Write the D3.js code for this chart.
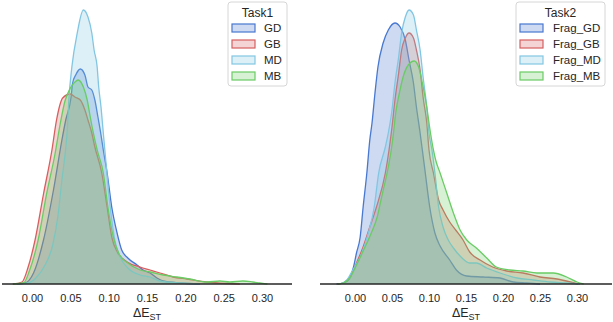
<!DOCTYPE html>
<html>
<head>
<meta charset="utf-8">
<script src="https://cdn.jsdelivr.net/npm/d3@7"></script>
<style>
  body { margin: 0; background: #fff; }
  svg text { font-family: "Liberation Sans", Arial, sans-serif; fill: #262626; }
</style>
</head>
<body>
<svg id="chart" width="613" height="322"></svg>
<script>
// Legend titles and series names.
var task1Title = "Task1";
var task2Title = "Task2";
var task1Names = ["GD", "GB", "MD", "MB"];
var task2Names = ["Frag_GD", "Frag_GB", "Frag_MD", "Frag_MB"];
var palette = ["#4878d0", "#d65f5f", "#82c6e2", "#6acc64"];
var xTicks = [0.00, 0.05, 0.10, 0.15, 0.20, 0.25, 0.30];

// Density curves: [dE_ST, density].
var task1GD = [[-0.02,0],[-0.009,0.1],[0.002,1.1],[0.015,4.4],[0.028,9.4],[0.039,14.4],[0.044,16.4],
  [0.051,18.7],[0.053,20.1],[0.057,20.9],[0.063,21.5],[0.069,20.9],[0.073,19.7],[0.078,19.4],[0.082,18.4],
  [0.086,16.7],[0.090,14.9],[0.093,13.4],[0.098,11.1],[0.104,7.7],[0.111,5.1],[0.117,3.4],[0.125,2.6],
  [0.137,1.9],[0.145,1.4],[0.154,1.1],[0.163,0.6],[0.171,0.3],[0.193,0.1],[0.219,0]];
var task1GB = [[-0.025,0],[-0.013,0.2],[-0.005,1.7],[0.004,4.4],[0.015,9.0],[0.026,13.4],[0.032,16.4],
  [0.040,18.6],[0.050,19.0],[0.056,18.7],[0.063,18.4],[0.069,17.4],[0.073,16.4],[0.078,15.1],
  [0.082,13.7],[0.091,11.1],[0.098,7.7],[0.104,4.7],[0.112,3.1],[0.124,2.2],[0.141,1.7],[0.154,1.4],
  [0.167,1.1],[0.184,0.7],[0.202,0.5],[0.228,0.2],[0.271,0]];
var task1MD = [[-0.02,0],[-0.005,0.1],[0.005,0.6],[0.017,1.9],[0.027,3.9],[0.034,6.9],[0.039,10.4],
  [0.043,12.9],[0.046,15.4],[0.048,18.4],[0.052,21.7],[0.059,25.1],[0.067,27.4],[0.073,26.7],[0.078,25.1],
  [0.081,23.4],[0.085,21.7],[0.087,19.7],[0.090,17.7],[0.093,15.1],[0.095,13.4],[0.102,7.7],[0.108,4.4],
  [0.115,2.7],[0.125,1.6],[0.141,0.9],[0.154,0.7],[0.167,0.3],[0.193,0.1],[0.219,0]];
var task1MB = [[-0.025,0],[-0.011,0.1],[-0.003,1.4],[0.008,4.4],[0.019,9.0],[0.030,13.0],[0.037,16.1],
  [0.043,18.3],[0.050,19.6],[0.056,20.2],[0.060,20.4],[0.067,19.7],[0.072,18.4],[0.076,16.7],[0.080,15.1],
  [0.085,13.4],[0.093,11.1],[0.099,7.7],[0.106,4.7],[0.113,3.1],[0.125,2.1],[0.141,1.4],[0.154,1.2],
  [0.171,0.9],[0.189,0.7],[0.206,0.5],[0.228,0.2],[0.245,0.3],[0.258,0.2],[0.275,0.3],[0.288,0.2],
  [0.297,0.1],[0.307,0]];

var task2GD = [[-0.025,0],[-0.016,0.1],[-0.009,0.4],[-0.002,1.7],[0.002,3.1],[0.007,4.7],[0.011,7.7],
  [0.016,11.1],[0.020,14.4],[0.023,16.1],[0.027,19.1],[0.031,21.7],[0.038,24.1],[0.045,25.4],[0.054,26.1],
  [0.061,25.7],[0.068,24.4],[0.073,22.4],[0.079,20.1],[0.083,17.7],[0.088,15.1],[0.091,13.4],[0.095,11.1],
  [0.101,7.7],[0.108,5.1],[0.115,3.8],[0.128,2.4],[0.137,1.4],[0.151,0.8],[0.173,0.7],[0.196,0.6],
  [0.214,0.2],[0.232,0.1],[0.25,0]];
var task2GB = [[-0.023,0],[-0.016,0.1],[-0.007,0.7],[0.002,2.1],[0.011,3.7],[0.020,5.7],[0.029,7.7],
  [0.041,11.1],[0.046,13.4],[0.050,15.7],[0.054,18.4],[0.059,21.1],[0.063,23.4],[0.068,24.6],[0.073,25.1],
  [0.079,24.6],[0.083,23.4],[0.088,21.4],[0.092,18.7],[0.097,16.1],[0.100,13.4],[0.106,11.1],[0.113,8.4],
  [0.119,7.4],[0.128,6.2],[0.136,5.4],[0.146,4.4],[0.155,3.2],[0.169,2.4],[0.186,1.7],[0.205,1.3],
  [0.227,1.1],[0.250,0.7],[0.273,0.5],[0.291,0.2],[0.301,0]];
var task2MD = [[-0.02,0],[-0.011,0.4],[-0.003,1.4],[0.007,2.7],[0.018,5.1],[0.026,7.7],[0.032,11.1],
  [0.041,13.7],[0.045,15.1],[0.050,17.4],[0.054,20.1],[0.059,22.7],[0.063,25.1],[0.068,26.7],[0.073,27.4],
  [0.079,26.9],[0.083,25.4],[0.088,23.4],[0.092,20.7],[0.097,17.7],[0.100,15.1],[0.104,13.4],[0.108,11.1],
  [0.113,7.7],[0.119,5.7],[0.126,4.4],[0.133,3.6],[0.142,2.8],[0.155,2.1],[0.164,2.1],[0.178,1.6],
  [0.196,1.1],[0.219,0.6],[0.241,0.4],[0.264,0.2],[0.286,0.1],[0.304,0]];
var task2MB = [[-0.023,0],[-0.016,0.1],[-0.007,0.6],[0.002,1.9],[0.011,3.3],[0.022,5.1],[0.030,6.7],
  [0.036,8.7],[0.045,11.7],[0.049,13.4],[0.052,15.1],[0.055,17.1],[0.060,19.1],[0.065,20.7],[0.072,21.9],
  [0.080,22.3],[0.086,21.7],[0.091,20.1],[0.097,17.7],[0.102,15.1],[0.106,13.4],[0.109,12.4],[0.115,11.1],
  [0.124,9.1],[0.133,7.1],[0.142,5.4],[0.151,4.4],[0.164,3.6],[0.178,2.6],[0.191,1.7],[0.209,1.4],
  [0.227,1.3],[0.246,1.1],[0.268,1.1],[0.286,0.7],[0.300,0.2],[0.309,0]];

var BASELINE = 284;
var svg = d3.select('#chart');

/**
 * drawPanel
 * Draws one kde panel: filled curves, x axis, xlabel and legend.
 */
var drawPanel = function(opts) {
  var g = svg.append('g');
  var x = d3.scaleLinear().domain([0, 0.30]).range([opts.zeroX, opts.zeroX + 0.30 * opts.pxPerUnit]);
  var maxD = d3.max(opts.series, function(s) { return d3.max(s, function(p) { return p[1]; }); });
  var y = d3.scaleLinear().domain([0, maxD * 1.05]).range([BASELINE, BASELINE - maxD * 1.05 * 10]);

  var area = d3.area().curve(d3.curveMonotoneX)
    .x(function(p) { return x(p[0]); })
    .y0(BASELINE)
    .y1(function(p) { return y(p[1]); });
  var line = d3.line().curve(d3.curveMonotoneX)
    .x(function(p) { return x(p[0]); })
    .y(function(p) { return y(p[1]); });

  // layers in hue order, so the last one (MB) ends up on top
  opts.series.forEach(function(s, i) {
    g.append('path').attr('d', area(s))
      .attr('fill', palette[i]).attr('fill-opacity', 0.27).attr('stroke', 'none');
    g.append('path').attr('d', line(s))
      .attr('fill', 'none').attr('stroke', palette[i]).attr('stroke-width', 1.3);
  });

  // x axis: only the spine and labels, no tick marks
  var axis = d3.axisBottom(x).tickValues(xTicks).tickSize(0).tickPadding(10)
    .tickFormat(d3.format('.2f'));
  var ax = g.append('g').attr('transform', 'translate(0,' + BASELINE + ')').call(axis);
  ax.select('.domain').remove();
  ax.selectAll('text').attr('font-size', 11).attr('fill', '#262626')
    .style('font-family', '"Liberation Sans", Arial, sans-serif');
  g.append('line')
    .attr('x1', opts.lineX[0]).attr('x2', opts.lineX[1])
    .attr('y1', BASELINE).attr('y2', BASELINE)
    .attr('stroke', '#262626').attr('stroke-width', 1.5);

  var lab = g.append('text')
    .attr('x', (opts.lineX[0] + opts.lineX[1]) / 2).attr('y', 317)
    .attr('text-anchor', 'middle').attr('font-size', 12.5);
  lab.append('tspan').text('ΔE');
  lab.append('tspan').attr('font-size', 9).attr('dy', 3).text('ST');

  // legend
  var lg = g.append('g').attr('transform', 'translate(' + opts.legend.x + ',2)');
  lg.append('rect')
    .attr('width', opts.legend.w).attr('height', 84).attr('rx', 3)
    .attr('fill', '#fff').attr('fill-opacity', 0.8)
    .attr('stroke', '#d6d6d6').attr('stroke-width', 1);
  lg.append('text').attr('x', opts.legend.w / 2).attr('y', 15)
    .attr('text-anchor', 'middle').attr('font-size', 12).text(opts.title);
  opts.names.forEach(function(name, i) {
    var cy = 26 + i * 16;
    lg.append('rect').attr('x', 4).attr('y', cy - 4).attr('width', 23).attr('height', 8)
      .attr('fill', palette[i]).attr('fill-opacity', 0.27)
      .attr('stroke', palette[i]).attr('stroke-width', 1.2);
    lg.append('text').attr('x', opts.legend.textX).attr('y', cy + 4)
      .attr('font-size', 11.5).text(name);
  });
};

drawPanel({
  series: [task1GD, task1GB, task1MD, task1MB],
  names: task1Names, title: task1Title,
  zeroX: 32, pxPerUnit: 766.7, lineX: [2, 292],
  legend: { x: 228, w: 59, textX: 36 }
});
drawPanel({
  series: [task2GD, task2GB, task2MD, task2MB],
  names: task2Names, title: task2Title,
  zeroX: 355, pxPerUnit: 740, lineX: [320, 612],
  legend: { x: 516, w: 89, textX: 37 }
});
</script>
</body>
</html>
